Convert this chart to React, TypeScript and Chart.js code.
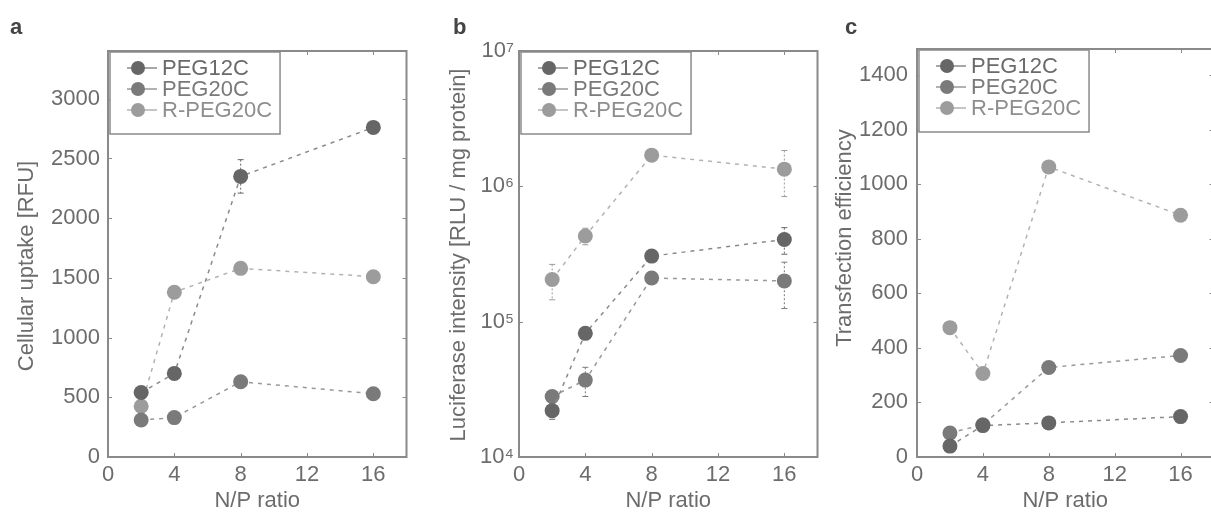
import React, { useEffect, useRef } from "react";
import { Chart, registerables } from "chart.js";
Chart.register(...registerables);

// ---------- data ----------
const seriesNames = ["PEG12C", "PEG20C", "R-PEG20C"];
const npRatios = [2, 4, 8, 16];
const xTickValues = [0, 4, 8, 12, 16];

// panel a: cellular uptake [RFU]
const uptakePEG12C = [540, 700, 2350, 2760];
const uptakePEG20C = [310, 330, 630, 530];
const uptakeRPEG20C = [425, 1380, 1580, 1510];
const uptakeErrPEG12C = [0, 40, 140, 0];
const uptakeErrPEG20C = [0, 0, 0, 0];
const uptakeErrRPEG20C = [0, 0, 0, 0];
const uptakeTicks = [0, 500, 1000, 1500, 2000, 2500, 3000];

// panel b: luciferase intensity [RLU / mg protein]
const lucPEG12C = [22000, 82000, 305000, 405000];
const lucPEG20C = [28000, 37000, 210000, 200000];
const lucRPEG20C = [205000, 430000, 1700000, 1340000];
const lucErrPEG12C = [3000, 0, 30000, 90000];
const lucErrPEG20C = [0, 9000, 20000, 75000];
const lucErrRPEG20C = [60000, 60000, 0, 500000];
const lucTicks = [1e4, 1e5, 1e6, 1e7];
const lucTickLabels = ["10\u2074", "10\u2075", "10\u2076", "10\u2077"];

// panel c: transfection efficiency
const tfPEG12C = [40, 115, 125, 148];
const tfPEG20C = [88, 118, 328, 372];
const tfRPEG20C = [474, 306, 1063, 886];
const tfErrPEG12C = [0, 0, 0, 0];
const tfErrPEG20C = [0, 0, 0, 0];
const tfErrRPEG20C = [0, 0, 0, 0];
const tfTicks = [0, 200, 400, 600, 800, 1000, 1200, 1400];

// ---------- style ----------
const FONT = "'Liberation Sans', Arial, Helvetica, sans-serif";
const FRAME = "#8a8a8a";
const TEXT = "#6c6c6c";
const markerColors = ["#666666", "#7a7a7a", "#9c9c9c"];
const lineColors = ["#8a8a8a", "#999999", "#b2b2b2"];
const legendTextColors = ["#6a6a6a", "#7a7a7a", "#8e8e8e"];

type PanelCfg = {
  values: number[][];
  errors: number[][];
  yType: "linear" | "logarithmic";
  yMin: number;
  yMax: number;
  yTicks: number[];
  yTickLabels?: string[];
  yTitle: string;
  yTitleX: number;
  yTitleY: number;
  yAxisWidth: number;
  tickPad: number;
  top: number;
  width: number;
};

function makePlugin(cfg: PanelCfg) {
  return {
    id: "panelDecor",
    beforeDatasetsDraw(chart: any) {
      const { ctx, scales } = chart;
      const x = scales.x;
      const y = scales.y;
      cfg.errors.forEach((errs, i) => {
        const vals = cfg.values[i];
        errs.forEach((e, j) => {
          if (!e) return;
          const px = x.getPixelForValue(npRatios[j]);
          const t = y.getPixelForValue(vals[j] + e);
          const b = y.getPixelForValue(Math.max(vals[j] - e, cfg.yMin));
          ctx.save();
          ctx.strokeStyle = markerColors[i];
          ctx.lineWidth = 1;
          ctx.setLineDash([2, 2]);
          ctx.beginPath();
          ctx.moveTo(px, t);
          ctx.lineTo(px, b);
          ctx.stroke();
          ctx.setLineDash([]);
          ctx.beginPath();
          ctx.moveTo(px - 3, t);
          ctx.lineTo(px + 3, t);
          ctx.moveTo(px - 3, b);
          ctx.lineTo(px + 3, b);
          ctx.stroke();
          ctx.restore();
        });
      });
    },
    afterDraw(chart: any) {
      const { ctx, chartArea: a, scales } = chart;
      const x = scales.x;
      const y = scales.y;
      ctx.save();
      // frame
      ctx.strokeStyle = FRAME;
      ctx.lineWidth = 2;
      ctx.setLineDash([]);
      ctx.strokeRect(a.left, a.top, a.right - a.left, a.bottom - a.top);
      // inward ticks
      ctx.lineWidth = 1;
      const tl = 4;
      ctx.beginPath();
      xTickValues.forEach((v) => {
        const px = Math.round(x.getPixelForValue(v)) + 0.5;
        ctx.moveTo(px, a.bottom);
        ctx.lineTo(px, a.bottom - tl);
        ctx.moveTo(px, a.top);
        ctx.lineTo(px, a.top + tl);
      });
      cfg.yTicks.forEach((v) => {
        const py = Math.round(y.getPixelForValue(v)) + 0.5;
        ctx.moveTo(a.left, py);
        ctx.lineTo(a.left + tl, py);
        ctx.moveTo(a.right, py);
        ctx.lineTo(a.right - tl, py);
      });
      ctx.stroke();

      // legend box
      ctx.font = `22px ${FONT}`;
      const maxText = Math.max(...seriesNames.map((s) => ctx.measureText(s).width));
      const bx = a.left + 2;
      const by = a.top + 1;
      const bw = 52 + maxText + 8;
      const bh = 82;
      ctx.fillStyle = "#ffffff";
      ctx.fillRect(bx, by, bw, bh);
      ctx.strokeStyle = FRAME;
      ctx.lineWidth = 1.5;
      ctx.strokeRect(bx, by, bw, bh);
      seriesNames.forEach((name, i) => {
        const cy = by + 16 + i * 21;
        ctx.strokeStyle = lineColors[i];
        ctx.lineWidth = 1.5;
        ctx.beginPath();
        ctx.moveTo(bx + 17, cy);
        ctx.lineTo(bx + 47, cy);
        ctx.stroke();
        ctx.fillStyle = markerColors[i];
        ctx.beginPath();
        ctx.arc(bx + 28, cy, 7, 0, Math.PI * 2);
        ctx.fill();
        ctx.fillStyle = legendTextColors[i];
        ctx.textAlign = "left";
        ctx.textBaseline = "middle";
        ctx.fillText(name, bx + 52, cy + 1);
      });

      // y-axis title
      ctx.translate(cfg.yTitleX, cfg.yTitleY);
      ctx.rotate(-Math.PI / 2);
      ctx.fillStyle = TEXT;
      ctx.textAlign = "center";
      ctx.textBaseline = "middle";
      ctx.font = `22px ${FONT}`;
      ctx.fillText(cfg.yTitle, 0, 0);
      ctx.restore();
    },
  };
}

function Panel({ cfg, left }: { cfg: PanelCfg; left: number }) {
  const ref = useRef<HTMLCanvasElement>(null);
  useEffect(() => {
    const datasets = seriesNames.map((name, i) => ({
      label: name,
      data: npRatios.map((r, j) => ({ x: r, y: cfg.values[i][j] })),
      borderColor: lineColors[i],
      borderWidth: 1.5,
      borderDash: [4, 5],
      pointRadius: 7.5,
      pointBorderWidth: 0,
      pointBackgroundColor: markerColors[i],
      pointBorderColor: markerColors[i],
      showLine: true,
      fill: false,
      tension: 0,
    }));
    const chart = new Chart(ref.current as HTMLCanvasElement, {
      type: "line",
      data: { datasets },
      options: {
        animation: false,
        responsive: false,
        devicePixelRatio: 1,
        layout: { padding: { top: cfg.top, right: 1, left: 0, bottom: 0 } },
        plugins: { legend: { display: false }, tooltip: { enabled: false } },
        scales: {
          x: {
            type: "linear",
            min: 0,
            max: 18,
            afterBuildTicks: (s: any) => {
              s.ticks = xTickValues.map((v) => ({ value: v }));
            },
            afterFit: (s: any) => {
              s.height = 55;
            },
            ticks: {
              font: { family: FONT, size: 22 },
              color: TEXT,
              padding: 5,
              maxRotation: 0,
              autoSkip: false,
              callback: (v: any) => String(v),
            },
            grid: { display: false, drawTicks: false },
            border: { display: false },
            title: {
              display: true,
              text: "N/P ratio",
              font: { family: FONT, size: 22, lineHeight: 1 },
              color: TEXT,
              padding: 0,
            },
          },
          y: {
            type: cfg.yType,
            min: cfg.yMin,
            max: cfg.yMax,
            afterBuildTicks: (s: any) => {
              s.ticks = cfg.yTicks.map((v) => ({ value: v }));
            },
            afterFit: (s: any) => {
              s.width = cfg.yAxisWidth;
            },
            ticks: {
              font: { family: FONT, size: 22 },
              color: TEXT,
              padding: cfg.tickPad,
              autoSkip: false,
              callback: (v: any, idx: number) =>
                cfg.yTickLabels ? cfg.yTickLabels[idx] : String(v),
            },
            grid: { display: false, drawTicks: false },
            border: { display: false },
          },
        },
      } as any,
      plugins: [makePlugin(cfg) as any],
    });
    return () => chart.destroy();
  }, []);
  return (
    <div style={{ position: "absolute", left, top: 0, width: cfg.width, height: 512 }}>
      <canvas ref={ref} width={cfg.width} height={512} style={{ display: "block" }} />
    </div>
  );
}

const panelA: PanelCfg = {
  values: [uptakePEG12C, uptakePEG20C, uptakeRPEG20C],
  errors: [uptakeErrPEG12C, uptakeErrPEG20C, uptakeErrRPEG20C],
  yType: "linear",
  yMin: 0,
  yMax: 3400,
  yTicks: uptakeTicks,
  yTitle: "Cellular uptake [RFU]",
  yTitleX: 27,
  yTitleY: 266,
  yAxisWidth: 108,
  tickPad: 8,
  top: 51,
  width: 414,
};

const panelB: PanelCfg = {
  values: [lucPEG12C, lucPEG20C, lucRPEG20C],
  errors: [lucErrPEG12C, lucErrPEG20C, lucErrRPEG20C],
  yType: "logarithmic",
  yMin: 1e4,
  yMax: 1e7,
  yTicks: lucTicks,
  yTickLabels: lucTickLabels,
  yTitle: "Luciferase intensity [RLU / mg protein]",
  yTitleX: 45,
  yTitleY: 255,
  yAxisWidth: 105,
  tickPad: 5,
  top: 51,
  width: 411,
};

const panelC: PanelCfg = {
  values: [tfPEG12C, tfPEG20C, tfRPEG20C],
  errors: [tfErrPEG12C, tfErrPEG20C, tfErrRPEG20C],
  yType: "linear",
  yMin: 0,
  yMax: 1495,
  yTicks: tfTicks,
  yTitle: "Transfection efficiency",
  yTitleX: 20,
  yTitleY: 238,
  yAxisWidth: 92,
  tickPad: 9,
  top: 49,
  width: 396,
};

const letterStyle: React.CSSProperties = {
  position: "absolute",
  top: 16,
  fontFamily: FONT,
  fontWeight: "bold",
  fontSize: 22,
  lineHeight: "22px",
  color: "#444",
};

export default function App() {
  return (
    <div
      style={{
        position: "fixed",
        left: 0,
        top: 0,
        width: 1211,
        height: 512,
        overflow: "hidden",
        background: "#fff",
      }}
    >
      <Panel cfg={panelA} left={0} />
      <Panel cfg={panelB} left={414} />
      <Panel cfg={panelC} left={825} />
      <div style={{ ...letterStyle, left: 10 }}>a</div>
      <div style={{ ...letterStyle, left: 453 }}>b</div>
      <div style={{ ...letterStyle, left: 845 }}>c</div>
    </div>
  );
}
